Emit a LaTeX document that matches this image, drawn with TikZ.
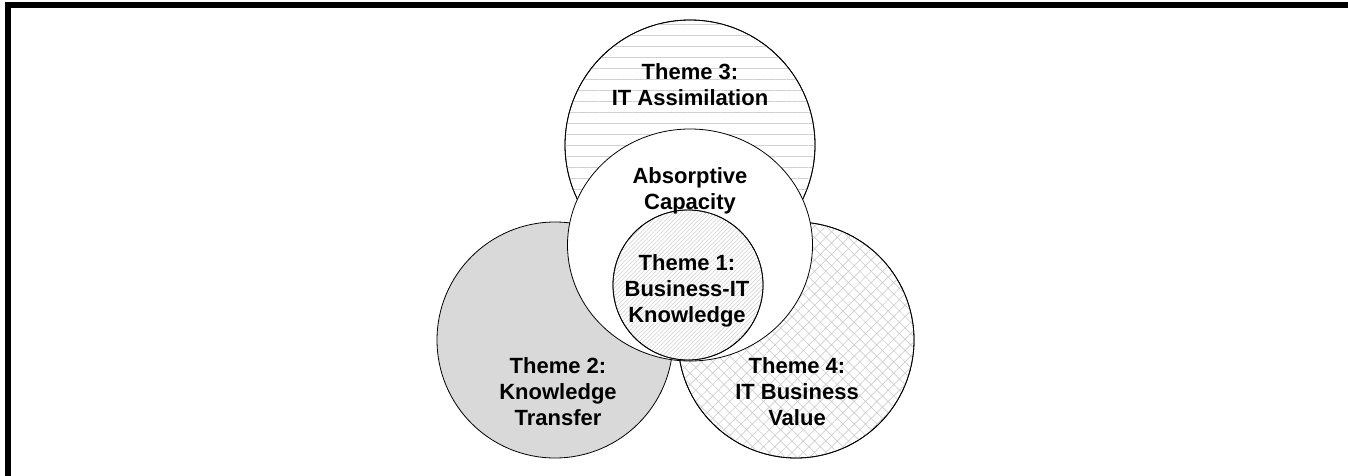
\documentclass[tikz,border=0pt]{standalone}
\usepackage{fontspec}
\setmainfont{Liberation Sans}
\usetikzlibrary{patterns.meta}

\definecolor{shade}{RGB}{217,217,217}
\definecolor{hatchgray}{RGB}{208,208,208}

\tikzset{
    theme/.style={draw=black, line width=0.6pt},
    themetext/.style={font=\bfseries\fontsize{16.5}{19.5}\selectfont, align=center, inner sep=0pt}
}

\begin{document}
\begin{tikzpicture}[x=0.75pt, y=-0.75pt]
    \useasboundingbox (0,0) rectangle (1348,475);
    \clip (0,0) rectangle (1348,475);

    % frame
    \draw[line width=4.5pt] (8,480) -- (8,4.5) -- (1350.5,4.5) -- (1350.5,480);

    % Theme 3
    \draw[theme, fill=white] (690,145) circle [radius=125];
    \fill[pattern={Lines[angle=0, distance=8.25pt, line width=0.5pt]}, pattern color=hatchgray] (690,145) circle [radius=125];
    \draw[theme] (690,145) circle [radius=125];

    % Theme 2
    \draw[theme, fill=shade] (555,340) circle [radius=118];

    % Theme 4
    \draw[theme, fill=white] (796,340) circle [radius=118];
    \fill[pattern={Hatch[angle=45, distance=6pt, line width=0.5pt]}, pattern color=hatchgray] (796,340) circle [radius=118];
    \draw[theme] (796,340) circle [radius=118];

    % absorptive capacity
    \draw[theme, fill=white] (690,245) ellipse [x radius=122.5, y radius=116];

    % Theme 1
    \draw[theme, fill=white] (688,285) circle [radius=75];
    \fill[pattern={Lines[angle=45, distance=2.2pt, line width=0.4pt]}, pattern color=hatchgray] (688,285) circle [radius=75];
    \draw[theme] (688,285) circle [radius=75];

    % \draw[help lines] (0,0) grid (1348,475);

    \node[themetext] (t3) at (690,85) {Theme 3:\\IT Assimilation};
    \node[themetext] (ac) at (690,191) {Absorptive\\Capacity};
    \node[themetext] (t1) at (687,291) {Theme 1:\\Business-IT\\Knowledge};
    \node[themetext] (t2) at (558,392) {Theme 2:\\Knowledge\\Transfer};
    \node[themetext] (t4) at (797,392) {Theme 4:\\IT Business\\Value};
\end{tikzpicture}
\end{document}
